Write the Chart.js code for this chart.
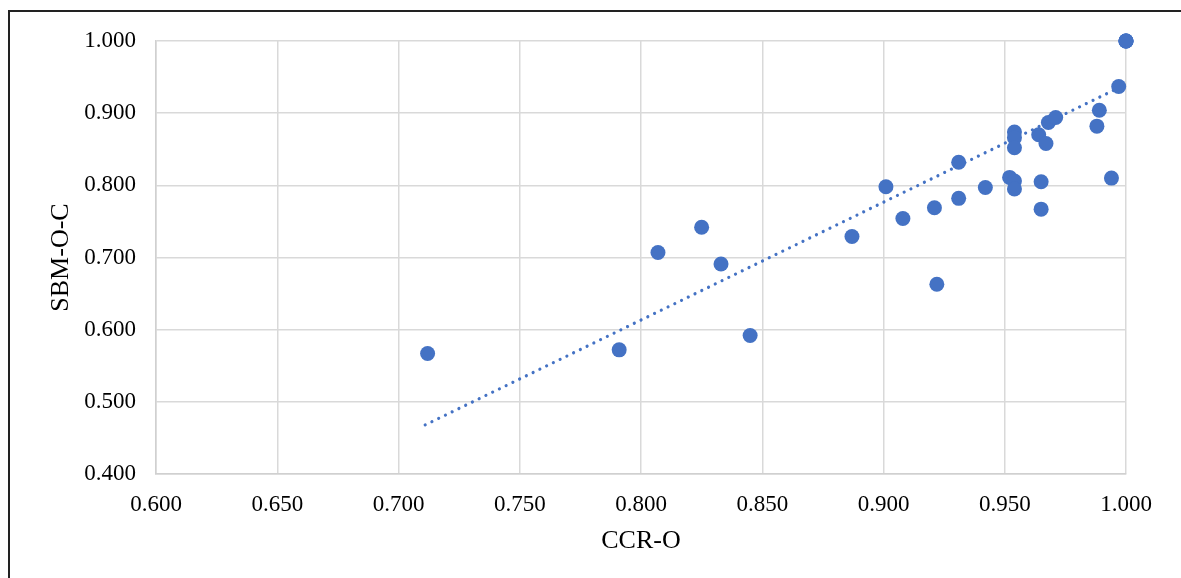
<!DOCTYPE html>
<html>
<head>
<meta charset="utf-8">
<script src="https://cdn.jsdelivr.net/npm/chart.js@4"></script>
<style>
  html, body { margin: 0; padding: 0; background: #fff; }
  #wrap { position: relative; width: 1181px; height: 578px; overflow: hidden; }
  #frame { position: absolute; left: 8px; top: 10px; width: 1200px; height: 600px;
           border-top: 2px solid #222; border-left: 2px solid #222; box-sizing: border-box; }
  canvas { position: absolute; left: 0; top: 0; }
</style>
</head>
<body>
<div id="wrap">
  <div id="frame"></div>
  <canvas id="c" width="1181" height="578"></canvas>
</div>
<script>
// Data
const ccrO  = [0.712, 0.791, 0.807, 0.825, 0.833, 0.845, 0.887, 0.901, 0.908, 0.921,
               0.922, 0.931, 0.931, 0.942, 0.952, 0.954, 0.954, 0.954, 0.954, 0.954,
               0.964, 0.965, 0.965, 0.967, 0.968, 0.971, 0.988, 0.989, 0.994, 0.997,
               1.000, 1.000, 1.000, 1.000];
const sbmOC = [0.567, 0.572, 0.707, 0.742, 0.691, 0.592, 0.729, 0.798, 0.754, 0.769,
               0.663, 0.782, 0.832, 0.797, 0.811, 0.806, 0.795, 0.874, 0.866, 0.852,
               0.870, 0.805, 0.767, 0.858, 0.887, 0.894, 0.882, 0.904, 0.810, 0.937,
               1.000, 1.000, 1.000, 1.000];
// Linear trendline end points (as drawn in the reference)
const trendX = [0.711, 1.000];
const trendY = [0.468, 0.940];
// Tick values
const xTicks = [0.600, 0.650, 0.700, 0.750, 0.800, 0.850, 0.900, 0.950, 1.000];
const yTicks = [0.400, 0.500, 0.600, 0.700, 0.800, 0.900, 1.000];
const xTitle = 'CCR-O';
const yTitle = 'SBM-O-C';

const BLUE = '#4472C4';
const FONT = "'Liberation Serif', 'Times New Roman', serif";

const points = ccrO.map((x, i) => ({ x: x, y: sbmOC[i] }));
const trend = trendX.map((x, i) => ({ x: x, y: trendY[i] }));

new Chart(document.getElementById('c'), {
  type: 'scatter',
  data: {
    datasets: [
      {
        label: 'Trend',
        data: trend,
        showLine: true,
        borderColor: BLUE,
        borderWidth: 3.2,
        borderDash: [0.001, 7.5],
        borderCapStyle: 'round',
        pointRadius: 0,
        pointHoverRadius: 0,
        fill: false,
        order: 2
      },
      {
        label: 'Data',
        data: points,
        backgroundColor: BLUE,
        borderColor: BLUE,
        borderWidth: 0,
        pointRadius: 7.5,
        pointHoverRadius: 7.5,
        clip: false,
        order: 1
      }
    ]
  },
  options: {
    responsive: false,
    animation: false,
    devicePixelRatio: 1,
    layout: { padding: { left: 0, right: 55, top: 41, bottom: 0 } },
    plugins: { legend: { display: false }, tooltip: { enabled: false } },
    scales: {
      x: {
        type: 'linear',
        min: 0.6, max: 1.0,
        afterBuildTicks: s => { s.ticks = xTicks.map(v => ({ value: v })); },
        afterFit: s => { s.height = 104; },
        grid: { color: '#d9d9d9', lineWidth: 1.5, drawTicks: false },
        border: { color: '#d0d0d0', width: 1.5 },
        ticks: {
          padding: 17,
          color: '#000',
          font: { family: FONT, size: 23 },
          maxRotation: 0,
          callback: v => Number(v).toFixed(3)
        },
        title: {
          display: true, text: xTitle, color: '#000',
          font: { family: FONT, size: 26 },
          padding: { top: 0, bottom: 21 }
        }
      },
      y: {
        type: 'linear',
        min: 0.4, max: 1.0,
        afterBuildTicks: s => { s.ticks = yTicks.map(v => ({ value: v })); },
        afterFit: s => { s.width = 156; },
        grid: { color: '#d9d9d9', lineWidth: 1.5, drawTicks: false },
        border: { color: '#d0d0d0', width: 1.5 },
        ticks: {
          padding: 20,
          color: '#000',
          font: { family: FONT, size: 23 },
          callback: v => Number(v).toFixed(3)
        },
        title: {
          display: true, text: yTitle, color: '#000',
          font: { family: FONT, size: 26 },
          padding: { top: 46, bottom: 0 }
        }
      }
    }
  }
});
</script>
</body>
</html>
